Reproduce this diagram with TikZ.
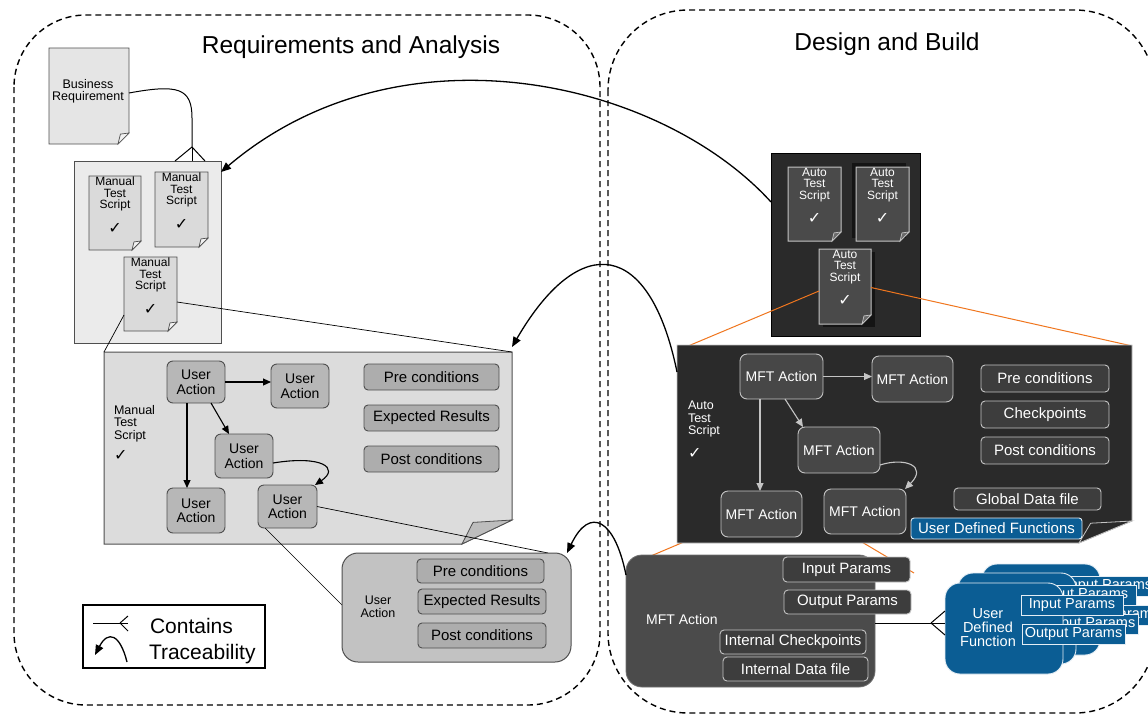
\documentclass[tikz,border=0pt]{standalone}
\usepackage{fontspec}
\setmainfont{Liberation Sans}
\newfontfamily\symfont{DejaVu Sans}
\usetikzlibrary{arrows.meta,calc}
\definecolor{pagelight}{HTML}{E5E5E5}
\definecolor{boxlight}{HTML}{EBEBEB}
\definecolor{doclight}{HTML}{DADADA}
\definecolor{bigdoclight}{HTML}{DCDCDC}
\definecolor{foldlight}{HTML}{F2F2F2}
\definecolor{foldmid}{HTML}{BDBDBD}
\definecolor{uafill}{HTML}{B7B7B7}
\definecolor{condfill}{HTML}{ADADAD}
\definecolor{uabigfill}{HTML}{C2C2C2}
\definecolor{edgedark}{HTML}{4F4F4F}
\definecolor{darkbg}{HTML}{2A2A2A}
\definecolor{darkitem}{HTML}{474747}
\definecolor{darkdoc}{HTML}{4A4A4A}
\definecolor{darkcond}{HTML}{3D3D3D}
\definecolor{edgelight}{HTML}{C4C4C4}
\definecolor{mftfill}{HTML}{4B4B4B}
\definecolor{udfblue}{HTML}{0B5D94}
\definecolor{udfedge}{HTML}{E4EDF4}
\definecolor{zoomorange}{HTML}{F0761E}
\newcommand\fsz[2]{\fontsize{#1}{#2}\selectfont}
\newcommand\ck{{\fsz{16}{16}\symfont\char"2713}}
% named box from corner (x1,y1) to corner (x2,y2)
\newcommand\boxat[7]{\node[#2,anchor=north west,minimum width={#5-#3},minimum height={#6-#4}] (#1) at (#3,#4) {#7};}
% page with a turned-down lower right corner
\newcommand\docshape[8]{%
  \path[#1] (#3,#4) -- (#5,#4) -- (#5,#6-#8) -- (#5-#7,#6) -- (#3,#6) -- cycle;
  \path[#2] (#5-#7,#6) -- (#5-0.78*#7,#6-0.9*#8) -- (#5,#6-#8) -- cycle;}
\tikzset{
  region/.style={draw=black, line width=1.4pt, dash pattern=on 6pt off 4pt, rounded corners=#1},
  titletext/.style={font=\fsz{24.5}{28}},
  holder/.style={inner sep=0pt, outer sep=0pt},
  lightpage/.style={fill=pagelight, draw=edgedark, line width=0.9pt},
  smallpage/.style={fill=doclight, draw=edgedark, line width=0.9pt},
  lightfold/.style={fill=foldlight, draw=edgedark, line width=0.7pt},
  bigpage/.style={fill=bigdoclight, draw=edgedark, line width=1pt},
  bigfold/.style={fill=foldmid, draw=edgedark, line width=0.8pt},
  darkpage/.style={fill=darkdoc, draw=edgelight, line width=1pt},
  darkfold/.style={fill=darkbg!70!white, draw=edgelight, line width=0.7pt},
  bigdark/.style={fill=darkbg, draw=edgelight, line width=0.8pt},
  bigdarkfold/.style={fill=darkbg, draw=edgelight, line width=0.8pt},
  mtbox/.style={fill=boxlight, draw=edgedark, line width=1pt},
  darkbox/.style={fill=darkbg, draw=black, line width=1pt},
  doctext/.style={font=\fsz{12}{11.5}, align=center},
  uabox/.style={fill=uafill, draw=edgedark, line width=0.9pt, rounded corners=6pt, font=\fsz{14}{14.5}, align=center},
  lcond/.style={fill=condfill, draw=edgedark, line width=0.9pt, rounded corners=4pt, font=\fsz{15}{15}},
  uabigstyle/.style={fill=uabigfill, draw=edgedark, line width=1pt, rounded corners=16pt},
  mftbox/.style={fill=darkitem, draw=edgelight, line width=0.9pt, rounded corners=7pt, text=white, font=\fsz{14}{14}},
  dcond/.style={fill=darkcond, draw=edgelight, line width=0.9pt, rounded corners=4pt, text=white, font=\fsz{15}{15}},
  udfsmall/.style={fill=udfblue, draw=udfedge, line width=0.9pt, rounded corners=3pt, text=white, font=\fsz{15}{15}},
  mftdetail/.style={fill=mftfill, draw=mftfill!80!white, line width=0.8pt, rounded corners=16pt},
  msub/.style={fill=darkcond, draw=edgelight, line width=0.9pt, rounded corners=4pt, text=white, font=\fsz{15}{15}},
  udfbox/.style={fill=udfblue, draw=udfedge, line width=0.9pt, rounded corners=15pt},
  udfsub/.style={fill=udfblue, draw=udfedge, line width=0.9pt, text=white, font=\fsz{14.5}{14.5}},
  flowarrow/.style={-{Triangle[length=8pt,width=7pt]}, line width=1.1pt, draw=black},
  flowwhite/.style={-{Triangle[length=8pt,width=7pt]}, line width=1.1pt, draw=edgelight},
  trace/.style={-{Triangle[length=10pt,width=8pt]}, line width=1.3pt},
  zoomline/.style={line width=0.7pt, draw=black},
  orangezoom/.style={line width=1pt, draw=zoomorange},
  contline/.style={line width=1pt, draw=black},
  legendbox/.style={draw=black, line width=1.2pt, fill=white},
  legendtext/.style={font=\fsz{21}{24}},
  smalllabel/.style={font=\fsz{12.5}{12.5}, align=left},
}
\begin{document}
\begin{tikzpicture}[x=1pt,y=-1pt, every node/.style={inner sep=0pt, outer sep=0pt}]
\useasboundingbox (0,0) rectangle (1148,715);
\fill[white] (0,0) rectangle (1148,715);

% ---------- regions and titles
\draw[region=72pt] (14,15) rectangle (600,705);
\draw[region=80pt] (608,10) rectangle (1155,713);
\node[titletext] (t1) at (351,47) {Requirements and Analysis};
\node[titletext] (t2) at (887,44) {Design and Build};

% ---------- business requirement
\docshape{lightpage}{lightfold}{49}{48}{129}{144}{11}{11}
\boxat{br}{holder}{49}{48}{129}{144}{}
\node[doctext, font=\fsz{12.5}{12}] (brt) at (88,91) {Business\\Requirement};

% ---------- manual test scripts
\boxat{mbox}{mtbox}{74}{161}{221}{343}{}
\docshape{smallpage}{lightfold}{89}{176}{141}{250}{9}{9}
\boxat{md1}{holder}{89}{176}{141}{250}{}
\node[doctext, anchor=north] (md1t) at ([yshift=-1pt]md1.north) {Manual\\Test\\Script\\[11pt]\ck};
\docshape{smallpage}{lightfold}{155}{172}{208}{247}{9}{9}
\boxat{md2}{holder}{155}{172}{208}{247}{}
\node[doctext, anchor=north] (md2t) at ([yshift=-1pt]md2.north) {Manual\\Test\\Script\\[11pt]\ck};
\docshape{smallpage}{lightfold}{124}{257}{177}{331}{9}{9}
\boxat{md3}{holder}{124}{257}{177}{331}{}
\node[doctext, anchor=north] (md3t) at ([yshift=-1pt]md3.north) {Manual\\Test\\Script\\[11pt]\ck};

% contains: business requirement -> manual scripts
\coordinate (brfoot) at (192,147);
\draw[contline] ([yshift=3pt]br.east) .. controls (178,84) and (192,88) .. (192,118) -- (brfoot);
\foreach \dx in {-17,0,13} \draw[contline] (brfoot) -- ([xshift=\dx pt]brfoot |- mbox.north);

% ---------- auto test scripts
\boxat{atsbox}{darkbox}{771}{153}{920}{336}{}
\fill[black!92] (852,163) rectangle (906,238);
\fill[black!92] (823,252) rectangle (875,327);
\docshape{darkpage}{darkfold}{788}{167}{841}{241}{9}{9}
\boxat{ats1}{holder}{788}{167}{841}{241}{}
\node[doctext, text=white, anchor=north] (ats1t) at ([yshift=-1pt]ats1.north) {Auto\\Test\\Script\\[11pt]\ck};
\docshape{darkpage}{darkfold}{856}{167}{909}{241}{9}{9}
\boxat{ats2}{holder}{856}{167}{909}{241}{}
\node[doctext, text=white, anchor=north] (ats2t) at ([yshift=-1pt]ats2.north) {Auto\\Test\\Script\\[11pt]\ck};
\docshape{darkpage}{darkfold}{819}{249}{871}{324}{9}{9}
\boxat{ats3}{holder}{819}{249}{871}{324}{}
\node[doctext, text=white, anchor=north] (ats3t) at ([yshift=-1pt]ats3.north) {Auto\\Test\\Script\\[11pt]\ck};

% orange zoom lines (behind the detail pages)
\coordinate (oz1) at (681,349);
\coordinate (oz2) at (1130,345.5);
\coordinate (oz3a) at (705,533);
\coordinate (oz3b) at (639,561);
\coordinate (oz4a) at (845,532);
\coordinate (oz4b) at (914,573);
\draw[orangezoom] ([yshift=-4.5pt]ats3.west) -- (oz1);
\draw[orangezoom] ([yshift=-1pt]ats3.east) -- (oz2);
\draw[orangezoom] (oz3a) -- (oz3b);
\draw[orangezoom] (oz4a) -- (oz4b);

% ---------- manual test script detail
\docshape{bigpage}{bigfold}{104}{352}{512}{544}{50}{24}
\boxat{mts}{holder}{104}{352}{512}{544}{}
\node[smalllabel, anchor=north west] (mtsl) at (114,405) {Manual\\Test\\Script\\[8pt]\ck};
\boxat{ua1}{uabox}{167}{361}{225}{403}{User\\Action}
\boxat{ua2}{uabox}{271}{364}{329}{408}{User\\Action}
\boxat{ua3}{uabox}{215}{434}{273}{478}{User\\Action}
\boxat{ua4}{uabox}{167}{488}{225}{533}{User\\Action}
\boxat{ua5}{uabox}{258}{485}{317}{528}{User\\Action}
\boxat{lpre}{lcond}{364}{364}{499}{390}{Pre conditions}
\boxat{lexp}{lcond}{364}{405}{499}{431}{Expected Results}
\boxat{lpost}{lcond}{364}{446}{499}{472}{Post conditions}
\draw[flowarrow] (ua1.east) -- (ua1.east -| ua2.west);
\draw[flowarrow] ([xshift=-9pt]ua1.south) -- ([xshift=-9pt]ua4.north);
\draw[flowarrow] ([xshift=15pt]ua1.south) -- ([xshift=-15pt]ua3.north);
\draw[flowarrow] ([yshift=-7pt]ua3.east) .. controls (322,455) and (340,468) .. ([xshift=-2pt]ua5.north east);

% ---------- auto test script detail
\docshape{bigdark}{bigdarkfold}{677}{345}{1132}{543}{53}{22}
\boxat{atsd}{holder}{677}{345}{1132}{543}{}
\node[smalllabel, text=white, anchor=north west] (atsl) at (688,401) {Auto\\Test\\Script\\[10pt]\ck};
\boxat{mft1}{mftbox}{740}{354}{823}{399}{MFT Action}
\boxat{mft2}{mftbox}{872}{356}{953}{402}{MFT Action}
\boxat{mft3}{mftbox}{798}{427}{880}{473}{MFT Action}
\boxat{mft4}{mftbox}{721}{491}{802}{537}{MFT Action}
\boxat{mft5}{mftbox}{824}{489}{906}{534}{MFT Action}
\boxat{dpre}{dcond}{981}{365}{1109}{392}{Pre conditions}
\boxat{dchk}{dcond}{981}{401}{1109}{428}{Checkpoints}
\boxat{dpost}{dcond}{981}{437}{1109}{464}{Post conditions}
\boxat{gdf}{dcond}{954}{488}{1101}{510}{Global Data file}
\boxat{udfs}{udfsmall}{911}{518}{1082}{539}{User Defined Functions}
\draw[flowwhite] (mft1.east) -- (mft1.east -| mft2.west);
\draw[flowwhite] ([xshift=-21.5pt]mft1.south) -- ([xshift=-1.5pt]mft4.north);
\draw[flowwhite] ([xshift=3.5pt]mft1.south) -- ([xshift=-36pt]mft3.north);
\draw[flowwhite] ([yshift=-15pt]mft3.east) .. controls (905,457) and (928,466) .. ([xshift=-1pt]mft5.north east);

% ---------- zoom lines on the left
\draw[zoomline] ([yshift=-21pt]md3.west) -- (mts.north west);
\draw[zoomline] ([yshift=-8pt]md3.east) -- (mts.north east);
\draw[zoomline] (ua5.east) -- (548,553);
\draw[zoomline] ([xshift=7pt]ua5.south west) -- (342,605);

% ---------- user action detail
\boxat{uabig}{uabigstyle}{342}{553}{571}{662}{}
\node[smalllabel, align=center] (uabigl) at (378,607) {User\\Action};
\boxat{upre}{lcond}{417}{559}{544}{583}{Pre conditions}
\boxat{uexp}{lcond}{418}{589}{546}{614}{Expected Results}
\boxat{upost}{lcond}{418}{623}{546}{648}{Post conditions}

% ---------- MFT action detail
\boxat{mftd}{mftdetail}{626}{555}{875}{687}{}
\node[font=\fsz{14}{14}, text=white] (mftdl) at (682,619) {MFT Action};
\boxat{minp}{msub}{783}{557}{910}{582}{Input Params}
\boxat{mout}{msub}{784}{590}{911}{614}{Output Params}
\boxat{mchk}{msub}{720}{630}{866}{654}{Internal Checkpoints}
\boxat{mdat}{msub}{723}{657}{868}{681}{Internal Data file}

% ---------- user defined functions (stack)
\boxat{udf3}{udfbox}{982}{564}{1100}{655}{}
\boxat{udf3i}{udfsub}{1058}{576}{1160}{596}{Input Params}
\boxat{udf3o}{udfsub}{1059}{605}{1162}{625}{Output Params}
\boxat{udf2}{udfbox}{958}{573}{1076}{664}{}
\boxat{udf2i}{udfsub}{1034}{585}{1136}{605}{Input Params}
\boxat{udf2o}{udfsub}{1035}{614}{1138}{634}{Output Params}
\boxat{udf1}{udfbox}{945}{583}{1063}{674}{}
\node[font=\fsz{14.5}{14}, text=white, align=center] (udf1l) at (988,628) {User\\Defined\\Function};
\boxat{udf1i}{udfsub}{1021}{595}{1123}{615}{Input Params}
\boxat{udf1o}{udfsub}{1022}{624}{1125}{644}{Output Params}

% contains: MFT action -> user defined function
\coordinate (udffoot) at (931,623);
\draw[contline] (mftd.east |- udffoot) -- (udffoot);
\foreach \dy in {12,0,-12} \draw[contline] (udffoot) -- ([yshift=\dy pt]udffoot -| udf1.west);

% ---------- traceability
\draw[trace] ([yshift=42.5pt]atsbox.west) .. controls (660,80) and (400,20) .. ([yshift=80pt]mbox.east);
\draw[trace] ([yshift=72pt]atsd.west) .. controls (650,240) and (580,230) .. ([yshift=5pt]mts.north east);
\draw[trace] ([yshift=46pt]mftd.west) .. controls (615,520) and (590,505) .. ([xshift=-4pt]uabig.north east);

% ---------- legend
\boxat{legend}{legendbox}{83}{605}{265}{668}{}
\coordinate (lc1) at (93,623);
\coordinate (lc2) at (120,623);
\draw[contline] (lc1) -- (lc2);
\foreach \dy in {7,0,-8} \draw[contline] (lc2) -- ($(lc2)+(8,-\dy)$);
\node[legendtext, anchor=base west] (lct) at (150,633) {Contains};
\coordinate (lt1) at (127,662);
\coordinate (lt2) at (95,655);
\draw[trace] (lt1) .. controls (120,634) and (108,630) .. (lt2);
\node[legendtext, anchor=base west] (ltt) at (149,659) {Traceability};
\end{tikzpicture}
\end{document}
